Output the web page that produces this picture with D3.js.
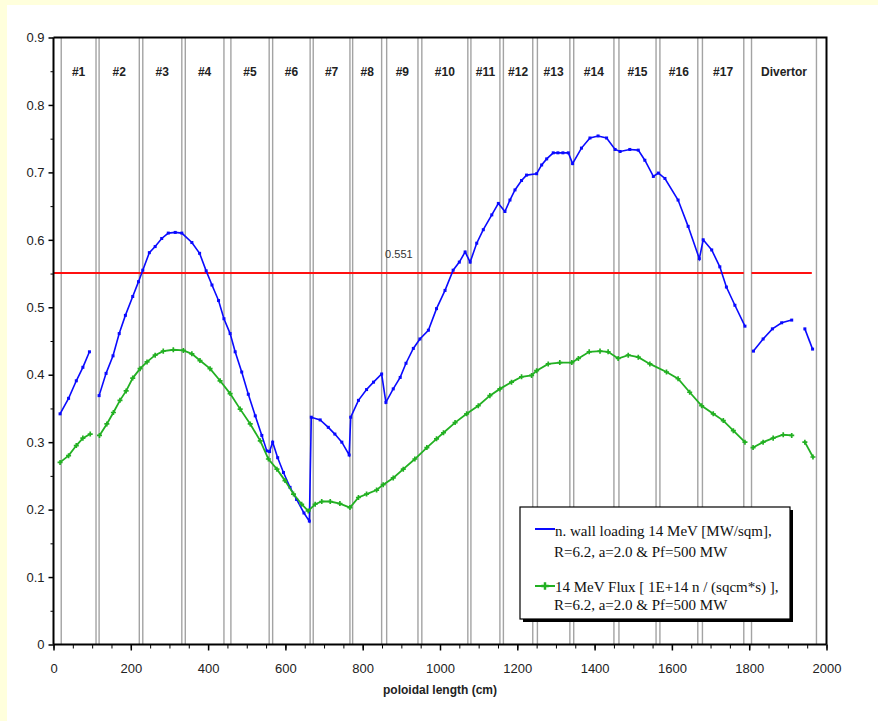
<!DOCTYPE html>
<meta charset="utf-8">
<style>
body { margin: 0; background: #ffffdc; }
svg { display: block; }
.axis text { font-family: "Liberation Sans", Arial, sans-serif; font-size: 13px; fill: #222; }
.axis path, .axis line { stroke: #000; }
.module-label { font-family: "Liberation Sans", Arial, sans-serif; font-size: 12px; font-weight: bold; fill: #222; text-anchor: middle; }
.legend text { font-family: "Liberation Serif", "Times New Roman", serif; font-size: 15px; fill: #111; }
</style>
<svg width="878" height="721"></svg>
<script src="https://cdnjs.cloudflare.com/ajax/libs/d3/7.8.5/d3.min.js"></script>
<script>

// module boundaries (cm): each entry is [end of previous, start of next]
var boundaries = [[20, 20], [110, 118], [222, 231], [332, 341], [441, 459], [558, 567],
  [664, 672], [767, 774], [849, 862], [943, 953], [1072, 1080], [1155, 1164],
  [1240, 1252], [1336, 1346], [1450, 1463], [1559, 1569], [1667, 1679], [1786, 1806], [1974, 1974]];
var moduleNames = ["#1", "#2", "#3", "#4", "#5", "#6", "#7", "#8", "#9", "#10", "#11",
  "#12", "#13", "#14", "#15", "#16", "#17", "Divertor"];

var xTicks = [0, 200, 400, 600, 800, 1000, 1200, 1400, 1600, 1800, 2000];
var yTicks = [0, 0.1, 0.2, 0.3, 0.4, 0.5, 0.6, 0.7, 0.8, 0.9];

// wall loading, 14 MeV [MW/sqm] (blue), broken into drawn pieces
var wallModule1 = [[17, 0.342], [39, 0.365], [59, 0.391], [76, 0.411], [93, 0.434]];
var wallMain = [[118, 0.369], [136, 0.402], [154, 0.428], [170, 0.461], [186, 0.488], [205, 0.516],
  [220, 0.538], [231, 0.555], [248, 0.581], [263, 0.590], [280, 0.602], [297, 0.610], [315, 0.611],
  [332, 0.610], [358, 0.596], [378, 0.580], [395, 0.554], [410, 0.533], [427, 0.510], [441, 0.483],
  [457, 0.461], [470, 0.434], [487, 0.404], [504, 0.371], [522, 0.339], [539, 0.310], [552, 0.287],
  [559, 0.286], [567, 0.300], [580, 0.277], [595, 0.255], [612, 0.233], [629, 0.215], [648, 0.195],
  [662, 0.183], [667, 0.337], [690, 0.333], [711, 0.322], [728, 0.312], [746, 0.300], [765, 0.281],
  [769, 0.337], [789, 0.362], [810, 0.378], [828, 0.389], [849, 0.401], [860, 0.359], [879, 0.379],
  [897, 0.396], [912, 0.417], [931, 0.439], [948, 0.453], [970, 0.466], [991, 0.498], [1013, 0.525],
  [1034, 0.555], [1050, 0.567], [1065, 0.582], [1078, 0.567], [1095, 0.595], [1112, 0.615],
  [1134, 0.637], [1151, 0.654], [1168, 0.642], [1181, 0.659], [1194, 0.674], [1211, 0.688],
  [1224, 0.696], [1250, 0.698], [1263, 0.711], [1276, 0.720], [1293, 0.729], [1305, 0.729],
  [1318, 0.729], [1332, 0.729], [1343, 0.713], [1366, 0.736], [1388, 0.751], [1409, 0.754],
  [1431, 0.751], [1453, 0.734], [1466, 0.731], [1491, 0.734], [1513, 0.733], [1530, 0.718],
  [1552, 0.694], [1565, 0.699], [1582, 0.691], [1616, 0.659], [1642, 0.620], [1671, 0.572],
  [1681, 0.600], [1703, 0.585], [1724, 0.560], [1741, 0.530], [1763, 0.503], [1789, 0.472]];
var wallDivertorA = [[1811, 0.435], [1836, 0.453], [1860, 0.468], [1884, 0.477], [1910, 0.481]];
var wallDivertorB = [[1944, 0.468], [1964, 0.438]];

// 14 MeV flux [1E+14 n/(sqcm*s)] (green)
var fluxModule1 = [[17, 0.270], [39, 0.280], [59, 0.295], [76, 0.306], [95, 0.312]];
var fluxMain = [[119, 0.310], [138, 0.327], [155, 0.344], [172, 0.362], [188, 0.376], [205, 0.395],
  [224, 0.409], [242, 0.419], [263, 0.429], [284, 0.435], [310, 0.437], [336, 0.436], [358, 0.431],
  [379, 0.421], [405, 0.409], [431, 0.391], [457, 0.372], [483, 0.349], [509, 0.327], [535, 0.302],
  [556, 0.275], [578, 0.260], [599, 0.243], [621, 0.223], [642, 0.208], [659, 0.198], [677, 0.208],
  [694, 0.212], [716, 0.212], [741, 0.209], [767, 0.203], [789, 0.218], [810, 0.223], [836, 0.229],
  [853, 0.237], [879, 0.247], [905, 0.260], [935, 0.275], [966, 0.292], [991, 0.305], [1009, 0.314],
  [1039, 0.329], [1069, 0.342], [1099, 0.354], [1129, 0.369], [1155, 0.379], [1185, 0.389],
  [1211, 0.397], [1237, 0.399], [1250, 0.406], [1280, 0.416], [1310, 0.418], [1341, 0.418],
  [1358, 0.424], [1386, 0.434], [1414, 0.435], [1435, 0.434], [1461, 0.424], [1487, 0.429],
  [1513, 0.426], [1543, 0.416], [1586, 0.404], [1616, 0.394], [1646, 0.374], [1677, 0.354],
  [1707, 0.342], [1733, 0.332], [1759, 0.317], [1789, 0.300]];
var fluxDivertorA = [[1810, 0.292], [1836, 0.300], [1862, 0.306], [1888, 0.311], [1910, 0.310]];
var fluxDivertorB = [[1944, 0.300], [1965, 0.278]];

// limit line at 0.551, drawn in two pieces
var limitValue = 0.551;
var limitPieces = [[0, 1786], [1806, 1962]];

var svg = d3.select("svg"),
    margin = {top: 37.5, right: 51.5, bottom: 76.5, left: 53.5},
    width = +svg.attr("width") - margin.left - margin.right,
    height = +svg.attr("height") - margin.top - margin.bottom;

// white panel on the yellow slide background
svg.append("rect").attr("x", 7).attr("y", 5).attr("width", 871).attr("height", 716).attr("fill", "#fff");

var x = d3.scaleLinear().domain([0, 2000]).range([0, width]),
    y = d3.scaleLinear().domain([0, 0.9]).range([height, 0]);

var g = svg.append("g")
    .attr("transform", "translate(" + margin.left + "," + margin.top + ")");

// module boundary double lines
var bx = [];
boundaries.forEach(function(b) {
  bx.push(b[0]);
  if (b[1] !== b[0]) bx.push(b[1]);
});
g.selectAll(".bound")
  .data(bx)
  .enter().append("line")
    .attr("class", "bound")
    .attr("x1", function(d) { return x(d); })
    .attr("x2", function(d) { return x(d); })
    .attr("y1", 0)
    .attr("y2", height)
    .attr("stroke", "#a3a3a3")
    .attr("stroke-width", 1.4);

// module labels centred between boundaries
g.selectAll(".module-label")
  .data(moduleNames)
  .enter().append("text")
    .attr("class", "module-label")
    .attr("x", function(d, i) { return x((boundaries[i][1] + boundaries[i + 1][0]) / 2); })
    .attr("y", 38)
    .text(function(d) { return d; });

// red limit
g.selectAll(".limit")
  .data(limitPieces)
  .enter().append("line")
    .attr("x1", function(d) { return x(d[0]); })
    .attr("x2", function(d) { return x(d[1]); })
    .attr("y1", y(limitValue))
    .attr("y2", y(limitValue))
    .attr("stroke", "#ff1010")
    .attr("stroke-width", 2);

g.append("text")
    .attr("x", x(858))
    .attr("y", y(0.573))
    .attr("font-family", "Liberation Sans, Arial, sans-serif")
    .attr("font-size", 11)
    .attr("fill", "#333")
    .text(limitValue);

// axes
g.append("g")
    .attr("class", "axis")
    .attr("transform", "translate(0," + height + ")")
    .call(d3.axisBottom(x).tickValues(d3.range(0, 2001, 50)).tickSize(4).tickFormat(""))
    .call(function(s) { s.select(".domain").remove(); });

g.append("g")
    .attr("class", "axis")
    .attr("transform", "translate(0," + height + ")")
    .call(d3.axisBottom(x).tickValues(xTicks).tickSize(6).tickPadding(13).tickFormat(d3.format("d")))
    .call(function(s) {
      s.select(".domain").attr("stroke-width", 2).attr("d", "M0,0H" + width);
      s.selectAll(".tick line").attr("stroke-width", 1.5);
    });

g.append("g")
    .attr("class", "axis")
    .call(d3.axisLeft(y).tickValues(d3.range(0.05, 0.9, 0.1)).tickSize(3).tickFormat(""))
    .call(function(s) { s.select(".domain").remove(); });

g.append("g")
    .attr("class", "axis")
    .call(d3.axisLeft(y).tickValues(yTicks).tickSize(5).tickPadding(4)
      .tickFormat(function(d) { return d === 0 ? "0" : d3.format(".1f")(d); }))
    .call(function(s) {
      s.select(".domain").attr("stroke-width", 2).attr("d", "M0," + height + "V0");
      s.selectAll(".tick line").attr("stroke-width", 1.5);
    });

// top and right frame
g.append("path")
    .attr("d", "M0,0H" + width + "V" + height)
    .attr("fill", "none")
    .attr("stroke", "#000")
    .attr("stroke-width", 2);

// curves
var line = d3.line()
    .x(function(d) { return x(d[0]); })
    .y(function(d) { return y(d[1]); });

var blue = "#0a0aff", green = "#22b022";

[wallModule1, wallMain, wallDivertorA, wallDivertorB].forEach(function(seg) {
  g.append("path").datum(seg)
      .attr("d", line)
      .attr("fill", "none")
      .attr("stroke", blue)
      .attr("stroke-width", 1.6);
  g.selectAll(null).data(seg).enter().append("rect")
      .attr("x", function(d) { return x(d[0]) - 1.5; })
      .attr("y", function(d) { return y(d[1]) - 1.5; })
      .attr("width", 3)
      .attr("height", 3)
      .attr("fill", blue);
});

var plus = d3.symbol().type(d3.symbolCross).size(14);
[fluxModule1, fluxMain, fluxDivertorA, fluxDivertorB].forEach(function(seg) {
  g.append("path").datum(seg)
      .attr("d", line)
      .attr("fill", "none")
      .attr("stroke", green)
      .attr("stroke-width", 1.8);
  g.selectAll(null).data(seg).enter().append("path")
      .attr("transform", function(d) { return "translate(" + x(d[0]) + "," + y(d[1]) + ")"; })
      .attr("d", plus)
      .attr("fill", green);
});

// legend box with shadow
var legend = svg.append("g").attr("class", "legend");
legend.append("rect")
    .attr("x", 523).attr("y", 510).attr("width", 270).attr("height", 112)
    .attr("fill", "#000");
legend.append("rect")
    .attr("x", 520).attr("y", 507).attr("width", 270).attr("height", 112)
    .attr("fill", "#fff").attr("stroke", "#000").attr("stroke-width", 1.2);

legend.append("line")
    .attr("x1", 535).attr("x2", 555).attr("y1", 529).attr("y2", 529)
    .attr("stroke", blue).attr("stroke-width", 2);
legend.append("line")
    .attr("x1", 535).attr("x2", 555).attr("y1", 586).attr("y2", 586)
    .attr("stroke", green).attr("stroke-width", 2);
legend.append("path")
    .attr("transform", "translate(545,586)")
    .attr("d", d3.symbol().type(d3.symbolCross).size(30))
    .attr("fill", green);

var legendLines = [
  ["n. wall loading 14 MeV [MW/sqm],", 555, 536],
  ["R=6.2, a=2.0 & Pf=500 MW", 554, 557],
  ["14 MeV Flux [ 1E+14 n / (sqcm*s) ],", 555, 592],
  ["R=6.2, a=2.0 & Pf=500 MW", 554, 610]
];
legend.selectAll("text.lg")
  .data(legendLines)
  .enter().append("text")
    .attr("class", "lg")
    .attr("x", function(d) { return d[1]; })
    .attr("y", function(d) { return d[2]; })
    .text(function(d) { return d[0]; });

// x-axis title
svg.append("text")
    .attr("x", margin.left + width / 2)
    .attr("y", 694)
    .attr("text-anchor", "middle")
    .attr("font-family", "Liberation Sans, Arial, sans-serif")
    .attr("font-size", 12)
    .attr("font-weight", "bold")
    .attr("fill", "#222")
    .text("poloidal length (cm)");

</script>
